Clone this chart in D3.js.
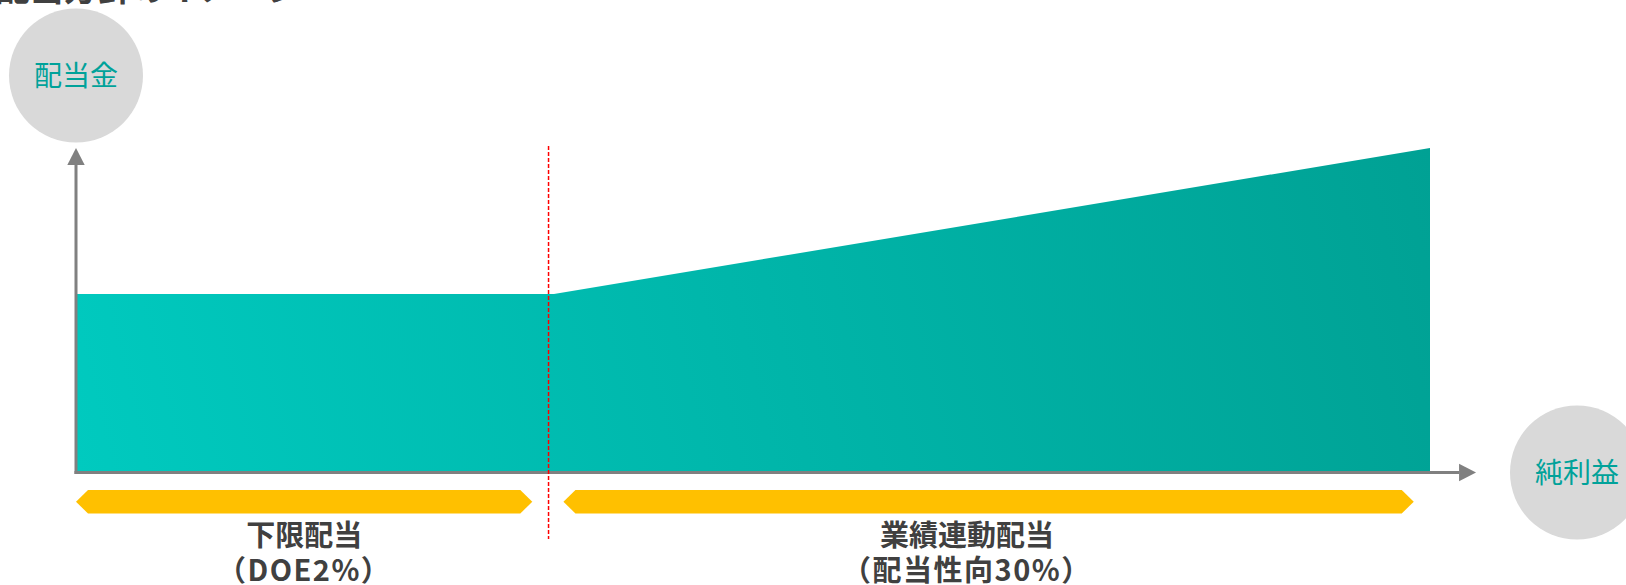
<!DOCTYPE html>
<html>
<head>
<meta charset="utf-8">
<script src="https://cdn.jsdelivr.net/npm/d3@7"></script>
<style>
  body { margin: 0; background: #fff; overflow: hidden; }
  svg { display: block; font-family: "Noto Sans CJK JP", "Noto Sans", sans-serif; }
</style>
</head>
<body>
<div id="chart"></div>
<script>
// Conceptual dividend curve: net profit (x) vs dividend (y), both in relative units
var profit = [0, 35.3, 100];
var dividend = [55, 55, 100];
var threshold = 34.9;            // switch point between the two policies

// Policy bands under the x axis
var bandStart = [0, 36.0];
var bandEnd = [33.7, 98.8];
var bandTitle = ["下限配当", "業績連動配当"];
var bandSub = ["（DOE2%）", "（配当性向30%）"];
var bandLabelAt = [33.7 / 2, 65.8];

var axisLabels = { y: "配当金", x: "純利益" };
var title = "配当方針のイメージ";

var svgWidth = 1626;
var svgHeight = 585;

var svg = d3.select("#chart")
    .append("svg")
    .attr("width", svgWidth)
    .attr("height", svgHeight);

var xScale = d3.scaleLinear().domain([0, 100]).range([76, 1430]);
var yScale = d3.scaleLinear().domain([0, 100]).range([472.5, 148]);

var teal = "#00a29a";
var axisGrey = "#808080";

// gradient for the area
var defs = svg.append("defs");
var grad = defs.append("linearGradient")
    .attr("id", "areaGrad")
    .attr("gradientUnits", "userSpaceOnUse")
    .attr("x1", xScale(0)).attr("y1", yScale(0))
    .attr("x2", xScale(100)).attr("y2", yScale(100));
grad.append("stop").attr("offset", "0%").attr("stop-color", "#00cabf");
grad.append("stop").attr("offset", "100%").attr("stop-color", "#00a194");

// cut-off title at the very top (only its lower edge shows)
svg.append("text")
    .attr("x", -4)
    .attr("y", 1)
    .attr("font-size", "34px")
    .attr("font-weight", "bold")
    .attr("fill", "#404040")
    .text(title);

// area
var rows = profit.map(function(p, i) { return { x: p, y: dividend[i] }; });
var area = d3.area()
    .x(function(d) { return xScale(d.x); })
    .y0(yScale(0))
    .y1(function(d) { return yScale(d.y); });

svg.append("path")
    .datum(rows)
    .attr("d", area)
    .attr("fill", "url(#areaGrad)");

// axes (plain lines with arrow heads)
var x0 = xScale(0), y0 = yScale(0);
var xTip = xScale(103.4), yTip = yScale(100);
var head = 17, half = 8.7;

svg.append("line")
    .attr("x1", x0).attr("y1", y0 + 1.5)
    .attr("x2", x0).attr("y2", yTip + head)
    .attr("stroke", axisGrey).attr("stroke-width", 3);
svg.append("path")
    .attr("d", `M${x0},${yTip} L${x0 + half},${yTip + head} L${x0 - half},${yTip + head} Z`)
    .attr("fill", axisGrey);

svg.append("line")
    .attr("x1", x0 - 1.5).attr("y1", y0)
    .attr("x2", xTip - head).attr("y2", y0)
    .attr("stroke", axisGrey).attr("stroke-width", 3);
svg.append("path")
    .attr("d", `M${xTip},${y0} L${xTip - head},${y0 - half} L${xTip - head},${y0 + half} Z`)
    .attr("fill", axisGrey);

// dashed threshold line
svg.append("line")
    .attr("x1", xScale(threshold)).attr("y1", 146)
    .attr("x2", xScale(threshold)).attr("y2", 539)
    .attr("stroke", "#ff0000")
    .attr("stroke-width", 1.5)
    .attr("stroke-dasharray", "4,2");

// yellow bands
var bandTop = 490, bandBottom = 513.5, inset = 12;
var bandMid = (bandTop + bandBottom) / 2;
svg.selectAll("path.band")
    .data(bandStart)
    .enter()
    .append("path")
    .attr("class", "band")
    .attr("d", function(d, i) {
        var a = xScale(d), b = xScale(bandEnd[i]);
        return `M${a},${bandMid} L${a + inset},${bandTop} L${b - inset},${bandTop} ` +
               `L${b},${bandMid} L${b - inset},${bandBottom} L${a + inset},${bandBottom} Z`;
    })
    .attr("fill", "#ffc000");

// band labels
svg.selectAll("text.bandTitle")
    .data(bandTitle)
    .enter()
    .append("text")
    .attr("class", "bandTitle")
    .attr("x", function(d, i) { return xScale(bandLabelAt[i]); })
    .attr("y", 546)
    .attr("text-anchor", "middle")
    .attr("font-size", "29px")
    .attr("font-weight", "bold")
    .attr("fill", "#404040")
    .text(function(d) { return d; });

svg.selectAll("text.bandSub")
    .data(bandSub)
    .enter()
    .append("text")
    .attr("class", "bandSub")
    .attr("x", function(d, i) { return xScale(bandLabelAt[i]); })
    .attr("y", 581)
    .attr("text-anchor", "middle")
    .attr("font-size", "29px")
    .attr("font-weight", "bold")
    .attr("letter-spacing", "1.5px")
    .attr("fill", "#404040")
    .text(function(d) { return d; });

// grey bubbles for axis names
var bubbles = [
    { cx: 76, cy: 75.5, label: axisLabels.y },
    { cx: 1577, cy: 472.5, label: axisLabels.x }
];
var bubble = svg.selectAll("g.bubble")
    .data(bubbles)
    .enter()
    .append("g")
    .attr("class", "bubble")
    .attr("transform", function(d) { return `translate(${d.cx}, ${d.cy})`; });

bubble.append("circle")
    .attr("r", 67)
    .attr("fill", "#d9d9d9");

bubble.append("text")
    .attr("y", 10)
    .attr("text-anchor", "middle")
    .attr("font-size", "28px")
    .attr("fill", teal)
    .text(function(d) { return d.label; });
</script>
</body>
</html>
